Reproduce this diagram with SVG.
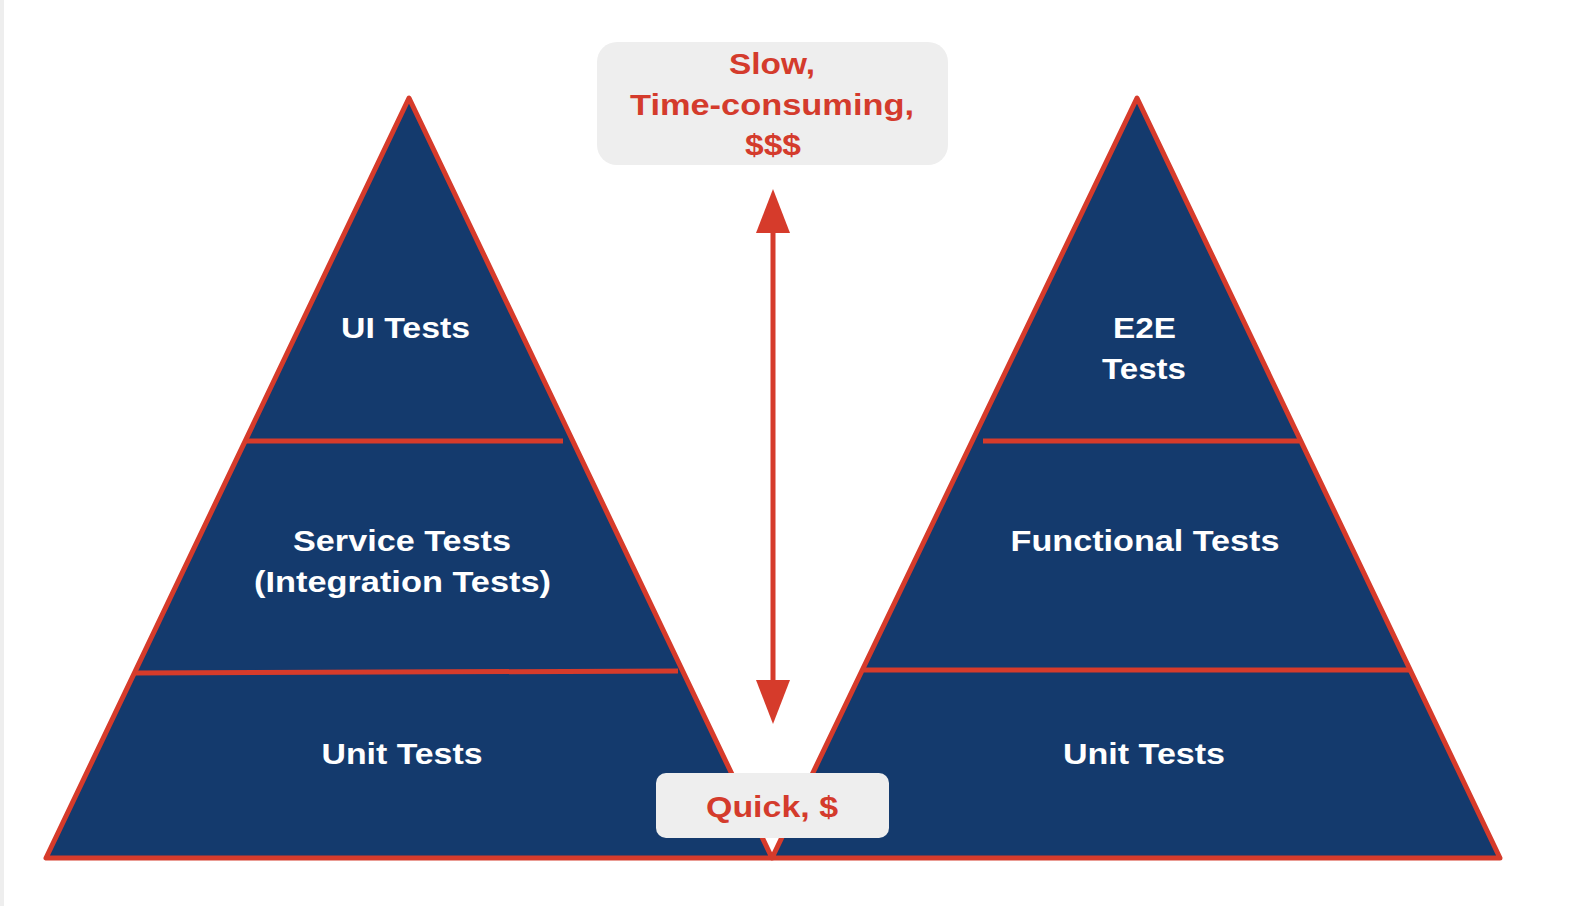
<svg xmlns="http://www.w3.org/2000/svg" width="1586" height="906" viewBox="0 0 1586 906">
<defs>
<style>
.tri{fill:#143a6d;stroke:#d63b2b;stroke-width:5;stroke-linejoin:round}
.div{stroke:#d63b2b;stroke-width:5;fill:none}
.lbl{font-family:"Liberation Sans",Arial,sans-serif;font-weight:bold;font-size:30px;fill:#ffffff;text-anchor:middle}
.note{font-family:"Liberation Sans",Arial,sans-serif;font-weight:bold;font-size:30px;fill:#d43b2c;text-anchor:middle}
.box{fill:#eeeeee}
</style>
<marker id="ah" viewBox="0 0 44 36" refX="0" refY="18" markerWidth="44" markerHeight="36" markerUnits="userSpaceOnUse" orient="auto-start-reverse">
<path d="M0,1 L44,18 L0,35 Z" fill="#d63b2b"/>
</marker>
</defs>
<rect x="0" y="0" width="1586" height="906" fill="#ffffff"/>
<rect x="0" y="0" width="4" height="906" fill="#eeeeee"/>
<g id="left-pyramid">
<polygon class="tri" points="409,98 46,858 772,858"/>
<line class="div" x1="246" y1="441" x2="563" y2="441"/>
<line class="div" x1="135" y1="673" x2="678" y2="671"/>
<text class="lbl" x="405.5" y="338" textLength="129" lengthAdjust="spacingAndGlyphs">UI Tests</text>
<text class="lbl" x="402" y="551" textLength="218" lengthAdjust="spacingAndGlyphs">Service Tests</text>
<text class="lbl" x="402.5" y="592" textLength="297" lengthAdjust="spacingAndGlyphs">(Integration Tests)</text>
<text class="lbl" x="402" y="764" textLength="161" lengthAdjust="spacingAndGlyphs">Unit Tests</text>
</g>
<g id="right-pyramid">
<polygon class="tri" points="1137,98 772,858 1500,858"/>
<line class="div" x1="983" y1="441" x2="1299" y2="441"/>
<line class="div" x1="864" y1="670" x2="1409" y2="670"/>
<text class="lbl" x="1144.5" y="338" textLength="63" lengthAdjust="spacingAndGlyphs">E2E</text>
<text class="lbl" x="1144" y="379" textLength="84" lengthAdjust="spacingAndGlyphs">Tests</text>
<text class="lbl" x="1145" y="551" textLength="269" lengthAdjust="spacingAndGlyphs">Functional Tests</text>
<text class="lbl" x="1144" y="764" textLength="162" lengthAdjust="spacingAndGlyphs">Unit Tests</text>
</g>
<g id="connectors">
<line x1="773" y1="233" x2="773" y2="680" stroke="#d63b2b" stroke-width="5" marker-start="url(#ah)" marker-end="url(#ah)"/>
</g>
<g id="slow-note">
<rect class="box" x="597" y="42" width="351" height="123" rx="20"/>
<text class="note" x="772" y="74" textLength="86" lengthAdjust="spacingAndGlyphs">Slow,</text>
<text class="note" x="772" y="115" textLength="284" lengthAdjust="spacingAndGlyphs">Time-consuming,</text>
<text class="note" x="773" y="155" textLength="56" lengthAdjust="spacingAndGlyphs">$$$</text>
</g>
<g id="quick-note">
<rect class="box" x="656" y="773" width="233" height="65" rx="10"/>
<text class="note" x="772" y="817" textLength="132" lengthAdjust="spacingAndGlyphs">Quick, $</text>
</g>
</svg>
